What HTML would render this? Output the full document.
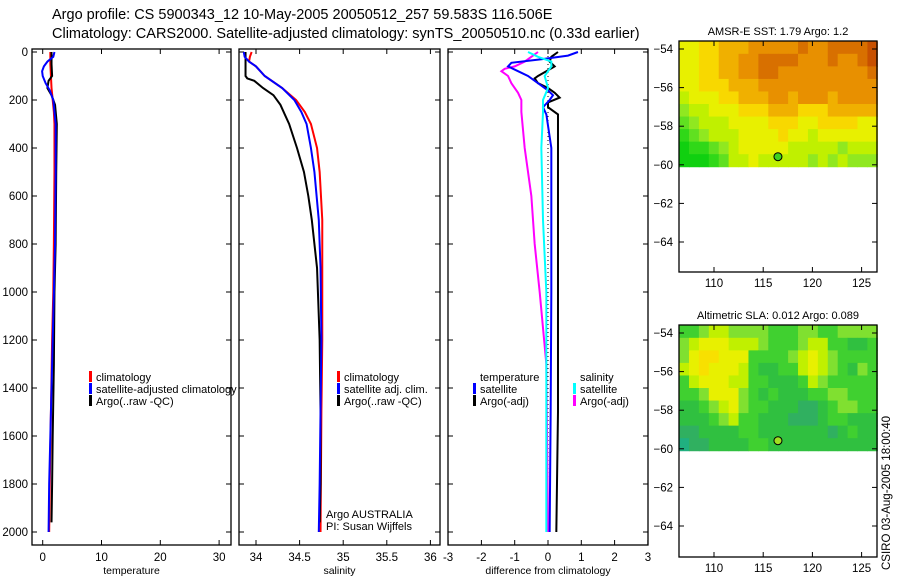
<!DOCTYPE html>
<html><head><meta charset="utf-8"><style>
body{margin:0;background:#fff;}
svg{display:block;font-family:"Liberation Sans",sans-serif;}
</style></head><body>
<svg id="s" width="900" height="580">
<text x="52" y="19" font-size="14.5">Argo profile: CS 5900343_12 10-May-2005 20050512_257 59.583S 116.506E</text>
<text x="52" y="38" font-size="14.5">Climatology: CARS2000. Satellite-adjusted climatology: synTS_20050510.nc (0.33d earlier)</text>
<text transform="translate(890,570) rotate(-90)" font-size="11.5">CSIRO 03-Aug-2005 18:00:40</text>
</svg>
<script>
// ---- data ----
const depthTicks=[0,200,400,600,800,1000,1200,1400,1600,1800,2000];
const tempTicks=[0,10,20,30];
const salTicks=[34,34.5,35,35.5,36];
const diffTicks=[-3,-2,-1,0,1,2,3];
const lonTicks=[110,115,120,125];
const latTicks=[-54,-56,-58,-60,-62,-64];

const tClimD=[0,50,100,150,200,250,300,500,800,1000,1200,1500,1800,2000];
const tClimV=[1.3,1.3,1.4,1.5,1.7,1.9,2.0,2.0,1.9,1.8,1.6,1.4,1.2,1.1];
const tSatD=[0,20,40,60,80,100,130,160,200,300,500,800,1000,1300,1600,1800,2000];
const tSatV=[2.0,1.8,0.8,0.2,-0.1,0.0,0.5,1.2,1.8,2.2,2.2,2.1,1.9,1.6,1.3,1.1,1.0];
const tArgoD=[0,50,100,120,150,180,220,300,500,800,1000,1300,1600,1800,1960];
const tArgoV=[1.5,1.5,1.6,1.0,0.8,1.5,2.1,2.4,2.3,2.2,2.0,1.9,1.7,1.6,1.5];

const sClimD=[0,20,40,60,100,150,200,250,300,400,500,700,900,1200,1500,2000];
const sClimV=[33.95,33.93,33.92,34.0,34.1,34.3,34.46,34.56,34.63,34.7,34.73,34.76,34.76,34.76,34.75,34.74];
const sSatD=[0,20,40,60,100,150,200,250,300,400,500,700,900,1200,1500,1800,2000];
const sSatV=[33.86,33.87,33.92,34.0,34.1,34.3,34.44,34.52,34.58,34.63,34.67,34.72,34.74,34.75,34.74,34.73,34.72];
const sArgoD=[0,50,100,110,120,150,180,220,260,300,400,500,600,700,900,1200,1500,1800,1960];
const sArgoV=[33.88,33.88,33.88,33.9,33.98,34.08,34.2,34.28,34.33,34.38,34.47,34.55,34.6,34.64,34.7,34.73,34.74,34.74,34.73];

const dTSatD=[0,15,30,45,60,80,100,130,160,180,200,230,260,400,700,1000,1500,2000];
const dTSatV=[0.9,0.6,-0.2,-1.1,-1.2,-0.9,-0.6,-0.3,0.0,0.15,0.05,-0.15,-0.05,0.1,0.1,0.1,0.08,0.05];
const dTArgoD=[0,20,40,60,80,100,110,130,150,170,190,210,230,260,400,1000,1500,2000];
const dTArgoV=[0.3,0.1,0.05,0.2,-0.05,-0.3,-0.4,-0.3,0.0,0.2,0.35,0.0,0.0,0.3,0.3,0.3,0.3,0.25];
const dSSatD=[0,20,40,60,100,150,200,250,400,700,1000,1500,2000];
const dSSatV=[-0.6,-0.3,0.1,0.1,-0.1,0.0,-0.15,-0.15,-0.2,-0.15,-0.05,-0.05,-0.05];
const dSArgoD=[0,20,40,60,70,80,90,100,130,170,200,250,400,600,800,1000,1300,2000];
const dSArgoV=[-0.3,-0.5,-0.7,-1.0,-1.3,-1.4,-1.3,-1.2,-1.1,-0.9,-0.8,-0.8,-0.7,-0.5,-0.4,-0.25,-0.05,0.0];

// heat map rows (north to south), digit 0=green .. 9=dark orange
const sstRows=["5566777888889889999A","5566778899998889889A","55667788998888888889","55666777888888888888","45556677788788878888","34455566677766677777","23444555566655666655","12344455556554555555","01123455555444443444","00012445444443434333"];
const slaRows=["33455444433344334444","45666555433345533223","46776663333456543333","56766653223356543243","35666553322235433333","33466643232223344333","22345643322211234433","22234533222111233222","11222233222222212322","01122223322222222222"];

// ---- helpers ----
const S=document.getElementById('s');
const NS='http://www.w3.org/2000/svg';
function mk(tag,attrs,parent){const e=document.createElementNS(NS,tag);for(const k in attrs)e.setAttribute(k,attrs[k]);(parent||S).appendChild(e);return e;}
function yD(d){return 52+d*0.24;}

function panel(name,x0,x1,fx,ticks,fmt,xlabel,showY){
  const g=mk('g',{});
  
  
  const r=mk('rect',{x:x0,y:49,width:x1-x0,height:496,fill:'none',stroke:'#000','stroke-width':1.3},g);
  
  
  ticks.forEach(t=>{const x=fx(t);
    mk('line',{x1:x,x2:x,y1:545,y2:540,stroke:'#000'},g);
    mk('line',{x1:x,x2:x,y1:49,y2:54,stroke:'#000'},g);
    const tx=mk('text',{x:x,y:561,'font-size':11.5,'text-anchor':'middle'},g);tx.textContent=fmt(t);
    
    });
  depthTicks.forEach(d=>{const y=yD(d);
    mk('line',{x1:x0,x2:x0+5,y1:y,y2:y,stroke:'#000'},g);
    mk('line',{x1:x1-5,x2:x1,y1:y,y2:y,stroke:'#000'},g);
    if(showY){const t=mk('text',{x:x0-4,y:y+4,'font-size':11.5,'text-anchor':'end'},g);t.textContent=d;
      
      }});
  const xl=mk('text',{x:(x0+x1)/2,y:574,'font-size':10.5,'text-anchor':'middle'},g);xl.textContent=xlabel;
  
  
  return g;
}
function line(g,name,fx,D,V,col,w){
  const p=mk('polyline',{points:D.map((d,i)=>fx(V[i])+','+yD(d)).join(' '),fill:'none',stroke:col,'stroke-width':w||2},g);
  
  
}
function legend(g,x,y,items){
  items.forEach((it,i)=>{
    if(it[1]){const m=mk('rect',{x:x,y:y+i*12-10,width:3,height:11,fill:it[1]},g);
      
      }
    const t=mk('text',{x:x+7,y:y+i*12,'font-size':11},g);t.textContent=it[0];
    
    });
}

// panel 1 temperature
const fT=v=>42.7+v*5.88;
const p1=panel('temperature-panel',32,231,fT,tempTicks,String,'temperature',true);
line(p1,'temp-climatology-line',fT,tClimD,tClimV,'#f00');
line(p1,'temp-argo-line',fT,tArgoD,tArgoV,'#000');
line(p1,'temp-satellite-line',fT,tSatD,tSatV,'#00f');
legend(p1,89,381,[['climatology','#f00'],['satellite-adjusted climatology','#00f'],['Argo(..raw -QC)','#000']]);

// panel 2 salinity
const fS=v=>256+(v-34)*87.2;
const p2=panel('salinity-panel',239,440,fS,salTicks,String,'salinity',false);
line(p2,'sal-climatology-line',fS,sClimD,sClimV,'#f00');
line(p2,'sal-argo-line',fS,sArgoD,sArgoV,'#000');
line(p2,'sal-satellite-line',fS,sSatD,sSatV,'#00f');
legend(p2,337,381,[['climatology','#f00'],['satellite adj. clim.','#00f'],['Argo(..raw -QC)','#000']]);
const a1=mk('text',{x:326,y:518,'font-size':11},p2);a1.textContent='Argo AUSTRALIA';


const a2=mk('text',{x:326,y:530,'font-size':11},p2);a2.textContent='PI: Susan Wijffels';



// panel 3 differences
const fDf=v=>548+v*33.3;
const p3=panel('difference-panel',448,648,fDf,diffTicks,String,'difference from climatology',false);
const zl=mk('line',{x1:fDf(0),x2:fDf(0),y1:yD(0),y2:yD(2000),stroke:'#000','stroke-dasharray':'1,3'},p3);


line(p3,'sal-argo-diff-line',fDf,dSArgoD,dSArgoV,'#f0f');
line(p3,'temp-argo-diff-line',fDf,dTArgoD,dTArgoV,'#000');
line(p3,'temp-sat-diff-line',fDf,dTSatD,dTSatV,'#00f');
line(p3,'sal-sat-diff-line',fDf,dSSatD,dSSatV,'#0ff');
legend(p3,473,381,[['temperature',null],['satellite','#00f'],['Argo(-adj)','#000']]);
legend(p3,573,381,[['salinity',null],['satellite','#0ff'],['Argo(-adj)','#f0f']]);

// maps
function colorOf(v,type){
  const sst=['#10d010','#30d818','#60e020','#90e820','#c0f000','#e8f000','#f8d800','#f0b000','#e89000','#d87000','#c85000'];
  const sla=['#20b080','#30b060','#30c040','#40d030','#80e030','#c0f000','#e8f000','#f8e000','#f0d000','#e8c000'];
  return (type==='sst'?sst:sla)[Math.min(v,10)];
}
function map(name,top,bottom,title,rows,type,dotFill){
  const g=mk('g',{});
  
  
  const fx=lon=>714+(lon-110)*9.84;
  const fy=lat=>top+8+(-54-lat)*19.3;
  const lonMin=106.45,lonMax=126.6,latTop=-53.6,latBot=-60.1;
  rows.forEach((row,ri)=>{
    const cells=row.split('');
    const h=(fy(latBot)-fy(latTop))/rows.length;
    const w=(fx(lonMax)-fx(lonMin))/cells.length;
    cells.forEach((c,ci)=>{
      const v=parseInt(c,16);
      const r=mk('rect',{x:fx(lonMin)+ci*w,y:fy(latTop)+ri*h,width:w+0.5,height:h+0.5,fill:colorOf(v,type)},g);
      
      
    });
  });
  const fr=mk('rect',{x:679,y:top,width:198,height:bottom-top,fill:'none',stroke:'#000','stroke-width':1.3},g);
  
  
  lonTicks.forEach(l=>{const x=fx(l);
    mk('line',{x1:x,x2:x,y1:top,y2:top+5,stroke:'#000'},g);
    mk('line',{x1:x,x2:x,y1:bottom,y2:bottom-5,stroke:'#000'},g);
    const t=mk('text',{x:x,y:bottom+15,'font-size':11.5,'text-anchor':'middle'},g);t.textContent=l;
    
    });
  latTicks.forEach(l=>{const y=fy(l);
    mk('line',{x1:679,x2:684,y1:y,y2:y,stroke:'#000'},g);
    mk('line',{x1:872,x2:877,y1:y,y2:y,stroke:'#000'},g);
    const t=mk('text',{x:673,y:y+4,'font-size':11.5,'text-anchor':'end'},g);t.textContent='\u2212'+Math.abs(l);
    
    });
  const tt=mk('text',{x:778,y:top-6,'font-size':11,'text-anchor':'middle'},g);tt.textContent=title;
  
  
  const d=mk('circle',{cx:fx(116.5),cy:fy(-59.58),r:4,fill:dotFill,stroke:'#000','stroke-width':1},g);
  
  
}
map('sst-map',41,272,'AMSR-E SST: 1.79 Argo: 1.2',sstRows,'sst','#40d020');
map('sla-map',325,557,'Altimetric SLA: 0.012 Argo: 0.089',slaRows,'sla','#a0e020');
</script>
</body></html>
